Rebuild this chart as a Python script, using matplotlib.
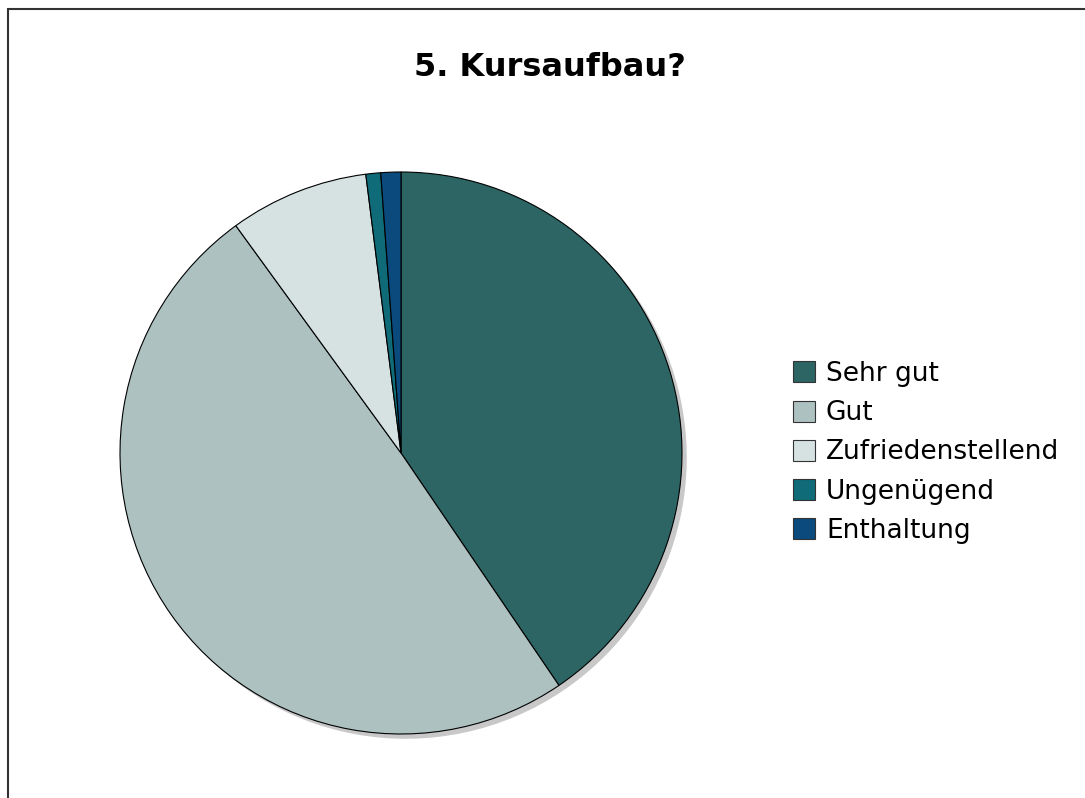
import matplotlib
matplotlib.use("Agg")
import matplotlib.pyplot as plt
from matplotlib.patches import Patch, Rectangle

# answers to question 5 (share of votes)
labels = ["Sehr gut", "Gut", "Zufriedenstellend", "Ungenügend", "Enthaltung"]
shares = [40.5, 49.5, 8.0, 0.85, 1.15]
colors = ["#2d6464", "#adc1c1", "#d6e2e2", "#0f6b78", "#0a4a7c"]
title = "5. Kursaufbau?"

W, H = 1085, 798
fig = plt.figure(figsize=(W / 100, H / 100), dpi=100)

# pie axes: centre (401, 453) px, radius 281 px
cx, cy, r = 401, 453, 281
ax = fig.add_axes([(cx - r) / W, (H - cy - r) / H, 2 * r / W, 2 * r / H])

# grey drop shadow behind the pie
ax.pie(shares, colors=["#c8c8c8"] * len(shares), startangle=90, counterclock=False,
       center=(0.017, -0.017), radius=1, wedgeprops=dict(linewidth=0))
wedges, _ = ax.pie(shares, colors=colors, startangle=90, counterclock=False,
                   radius=1, wedgeprops=dict(edgecolor="black", linewidth=0.8))
ax.set_xlim(-1, 1)
ax.set_ylim(-1, 1)
ax.set_aspect("auto")
ax.axis("off")
for p in ax.patches:
    p.set_clip_on(False)

fig.text(550 / W, 1 - 76 / H, title, ha="center", va="baseline",
         fontsize=23, fontweight="bold", family="DejaVu Sans")

handles = [Patch(facecolor=c, edgecolor="#333333", linewidth=0.8) for c in colors]
fig.legend(handles, labels, loc="upper left", bbox_to_anchor=(793 / W, 1 - 361 / H),
           frameon=False, fontsize=19, handlelength=0.85, handleheight=0.85,
           handletextpad=0.4, labelspacing=0.5, borderpad=0, borderaxespad=0)

# outer frame
fig.add_artist(Rectangle((7.5 / W, -0.05), 1.2, 1.05 - 9.5 / H, transform=fig.transFigure,
                         fill=False, edgecolor="#333333", linewidth=1.5, clip_on=False))

fig.savefig("out.png", dpi=100)
